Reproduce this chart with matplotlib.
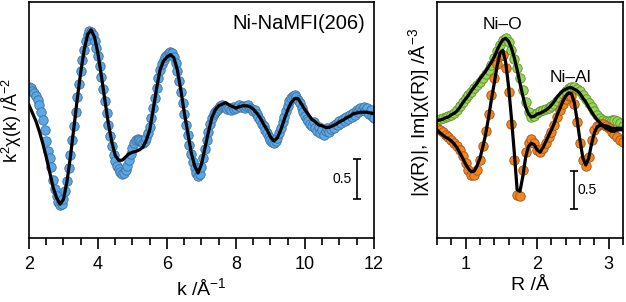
import numpy as np
import matplotlib
matplotlib.use("Agg")
import matplotlib.pyplot as plt
from matplotlib.ticker import MultipleLocator, NullLocator

plt.rcParams["font.family"] = ["Liberation Sans", "DejaVu Sans"]
plt.rcParams["mathtext.default"] = "regular"

# --- k-Raum: Messpunkte (Schritt 0.05) und Fit (Schritt 0.1) ---
chi_data = [
    0.38, 0.36, 0.33, 0.30, 0.26, 0.21, 0.15, 0.06, -0.04, -0.16,
    -0.30, -0.43, -0.51, -0.63, -0.79, -0.90, -0.99, -1.06, -1.10, -1.09,
    -1.03, -0.93, -0.80, -0.64, -0.48, -0.29, -0.11, 0.06, 0.25, 0.41,
    0.58, 0.71, 0.84, 0.95, 1.03, 1.08, 1.06, 1.03, 0.95, 0.86,
    0.76, 0.64, 0.50, 0.35, 0.20, 0.05, -0.10, -0.24, -0.36, -0.48,
    -0.55, -0.61, -0.65, -0.69, -0.71, -0.70, -0.66, -0.61, -0.54, -0.46,
    -0.39, -0.33, -0.29, -0.28, -0.29, -0.30, -0.33, -0.30, -0.26, -0.20,
    -0.13, -0.01, 0.11, 0.24, 0.36, 0.49, 0.59, 0.66, 0.71, 0.75,
    0.78, 0.80, 0.81, 0.80, 0.75, 0.68, 0.58, 0.45, 0.31, 0.18,
    0.04, -0.10, -0.23, -0.35, -0.46, -0.56, -0.64, -0.70, -0.74, -0.71,
    -0.63, -0.51, -0.40, -0.29, -0.19, -0.09, -0.01, 0.04, 0.06, 0.09,
    0.11, 0.14, 0.15, 0.14, 0.13, 0.10, 0.11, 0.09, 0.13, 0.10,
    0.11, 0.14, 0.15, 0.13, 0.14, 0.11, 0.14, 0.15, 0.11, 0.10,
    0.08, 0.09, 0.04, 0.00, -0.04, -0.09, -0.11, -0.16, -0.20, -0.25,
    -0.29, -0.31, -0.33, -0.30, -0.26, -0.20, -0.14, -0.06, 0.00, 0.08,
    0.14, 0.20, 0.24, 0.26, 0.28, 0.25, 0.21, 0.18, 0.11, 0.06,
    0.01, -0.03, -0.05, -0.09, -0.11, -0.06, -0.14, -0.18, -0.13, -0.20,
    -0.16, -0.23, -0.18, -0.14, -0.19, -0.15, -0.11, -0.14, -0.09, -0.10,
    -0.05, -0.08, -0.03, -0.05, 0.00, -0.03, 0.03, 0.00, 0.05, 0.03,
    0.09, 0.06, 0.11, 0.09, 0.13, 0.08, 0.11, 0.04, 0.09, 0.01,
    -0.01,
]
chi_fit = [
    0.15, 0.05, -0.05, -0.18, -0.33, -0.50, -0.69, -0.88, -1.01, -1.09,
    -1.03, -0.81, -0.50, -0.14, 0.23, 0.56, 0.84, 1.03, 1.09, 1.00,
    0.79, 0.51, 0.21, -0.08, -0.31, -0.48, -0.54, -0.54, -0.50, -0.46,
    -0.44, -0.43, -0.41, -0.38, -0.29, -0.16, 0.09, 0.36, 0.59, 0.70,
    0.75, 0.78, 0.74, 0.59, 0.34, 0.06, -0.19, -0.44, -0.61, -0.70,
    -0.59, -0.39, -0.19, -0.01, 0.09, 0.14, 0.16, 0.18, 0.15, 0.13,
    0.11, 0.13, 0.14, 0.14, 0.13, 0.10, 0.05, -0.01, -0.09, -0.16,
    -0.25, -0.30, -0.26, -0.16, -0.03, 0.09, 0.18, 0.23, 0.23, 0.16,
    0.09, 0.03, -0.03, -0.06, -0.10, -0.11, -0.13, -0.13, -0.11, -0.09,
    -0.06, -0.04, -0.01, 0.01, 0.04, 0.05, 0.06, 0.06, 0.06, 0.05,
    0.04,
]
k_data = np.linspace(2.0, 12.0, len(chi_data))
k_fit = np.linspace(2.0, 12.0, len(chi_fit))

# --- R-Raum: Betrag und Imaginaerteil (Schritt 0.04) ---
mag_data = [
    0.08, 0.09, 0.11, 0.12, 0.13, 0.15, 0.17, 0.21, 0.27, 0.32,
    0.37, 0.41, 0.45, 0.51, 0.55, 0.59, 0.64, 0.69, 0.75, 0.81,
    0.91, 1.00, 1.08, 1.15, 1.17, 1.12, 1.01, 0.89, 0.77, 0.64,
    0.48, 0.32, 0.19, 0.12, 0.13, 0.17, 0.20, 0.21, 0.23, 0.24,
    0.27, 0.29, 0.33, 0.37, 0.43, 0.47, 0.51, 0.52, 0.52, 0.49,
    0.47, 0.41, 0.36, 0.31, 0.25, 0.20, 0.15, 0.11, 0.08, 0.07,
    0.07, 0.08, 0.08, 0.07, 0.04, 0.00,
]
mag_fit = [
    0.07, 0.08, 0.09, 0.11, 0.12, 0.15, 0.17, 0.20, 0.25, 0.31,
    0.36, 0.41, 0.47, 0.52, 0.57, 0.63, 0.68, 0.73, 0.79, 0.85,
    0.92, 1.01, 1.09, 1.15, 1.17, 1.13, 1.04, 0.91, 0.75, 0.57,
    0.40, 0.25, 0.16, 0.12, 0.13, 0.16, 0.17, 0.19, 0.21, 0.24,
    0.28, 0.33, 0.39, 0.43, 0.47, 0.49, 0.51, 0.51, 0.49, 0.47,
    0.43, 0.37, 0.32, 0.25, 0.19, 0.13, 0.08, 0.04, 0.01, 0.00,
    -0.01, -0.03, -0.03, -0.03, -0.03, -0.03,
]
im_data = [
    -0.03, -0.05, -0.08, -0.12, -0.15, -0.19, -0.23, -0.27, -0.32, -0.40,
    -0.49, -0.59, -0.65, -0.65, -0.59, -0.45, -0.27, -0.07, 0.16, 0.41,
    0.64, 0.83, 0.93, 0.95, 0.77, 0.45, 0.03, -0.45, -0.92, -0.93,
    -0.59, -0.35, -0.23, -0.17, -0.23, -0.32, -0.35, -0.29, -0.23, -0.15,
    -0.08, 0.01, 0.12, 0.21, 0.29, 0.36, 0.40, 0.40, 0.29, 0.05,
    -0.23, -0.45, -0.53, -0.41, -0.19, -0.05, 0.00, 0.03, 0.03, 0.00,
    -0.03, -0.08, -0.11, -0.15, -0.19, -0.21,
]
im_fit = [
    -0.05, -0.09, -0.12, -0.15, -0.17, -0.20, -0.24, -0.29, -0.36, -0.43,
    -0.51, -0.57, -0.61, -0.60, -0.53, -0.43, -0.28, -0.11, 0.11, 0.35,
    0.57, 0.80, 0.97, 1.01, 0.85, 0.53, 0.11, -0.35, -0.85, -0.87,
    -0.67, -0.41, -0.27, -0.23, -0.25, -0.32, -0.35, -0.29, -0.21, -0.13,
    -0.05, 0.04, 0.15, 0.24, 0.33, 0.40, 0.44, 0.43, 0.31, 0.07,
    -0.20, -0.43, -0.52, -0.43, -0.24, -0.09, -0.01, 0.01, 0.00, -0.03,
    -0.05, -0.07, -0.07, -0.05, -0.05, -0.05,
]
r_grid = np.linspace(0.60, 3.20, len(mag_data))

# Farben der Messpunkte
blue, blue_edge = "#5aa8e8", "#3f6f9c"
green, green_edge = "#98d455", "#5d8f2c"
orange, orange_edge = "#f28522", "#a3520f"


def style_axis(ax, major, minor):
    for s in ax.spines.values():
        s.set_linewidth(1.2)
    ax.xaxis.set_major_locator(MultipleLocator(major))
    ax.xaxis.set_minor_locator(MultipleLocator(minor))
    ax.yaxis.set_major_locator(NullLocator())
    ax.yaxis.set_minor_locator(NullLocator())
    ax.tick_params(axis="x", which="major", direction="out", length=8, width=1.2,
                   labelsize=13, pad=5)
    ax.tick_params(axis="x", which="minor", direction="out", length=5, width=1.2)


def scale_bar(ax, x, y0, y1, label, tx, ha):
    ax.errorbar([x], [(y0 + y1) / 2], yerr=[(y1 - y0) / 2], color="black",
                lw=1.2, capsize=3, capthick=1.2, fmt="none")
    ax.text(tx, (y0 + y1) / 2, label, ha=ha, va="center", fontsize=10)


fig = plt.figure(figsize=(6.26, 3.02), dpi=100)

# linkes Panel: k^2 chi(k)
ax1 = fig.add_axes([0.0463, 0.2119, 0.5511, 0.7815])
ax1.plot(k_data, chi_data, "o", ms=6.8, mfc=blue, mec=blue_edge, mew=0.6, zorder=2)
ax1.plot(k_fit, chi_fit, color="black", lw=2.3, zorder=3)
ax1.set_xlim(2, 12)
ax1.set_ylim(-1.5125, 1.4375)
style_axis(ax1, 2, 0.5)
ax1.set_xlabel("k /Å$^{-1}$", fontsize=14, labelpad=3)
ax1.set_ylabel("k$^2$χ(k) /Å$^{-2}$", fontsize=13)
ax1.yaxis.set_label_coords(-0.013, 0.5)
ax1.text(0.974, 0.907, "Ni-NaMFI(206)", transform=ax1.transAxes, ha="right",
         va="center", fontsize=14.5)
scale_bar(ax1, 11.51, -1.03, -0.53, "0.5", 11.36, "right")

# rechtes Panel: |chi(R)| und Im[chi(R)]
ax2 = fig.add_axes([0.6981, 0.2119, 0.2971, 0.7815])
ax2.plot(r_grid, mag_data, "o", ms=6.8, mfc=green, mec=green_edge, mew=0.6, zorder=2)
ax2.plot(r_grid, im_data, "o", ms=6.8, mfc=orange, mec=orange_edge, mew=0.6, zorder=2)
ax2.plot(r_grid, mag_fit, color="black", lw=2.3, zorder=3)
ax2.plot(r_grid, im_fit, color="black", lw=2.3, zorder=3)
ax2.set_xlim(0.6, 3.2)
ax2.set_ylim(-1.493, 1.653)
style_axis(ax2, 1, 0.2)
ax2.set_xlabel("R /Å", fontsize=14, labelpad=3)
ax2.set_ylabel("|χ(R)|, Im[χ(R)] /Å$^{-3}$", fontsize=14)
ax2.yaxis.set_label_coords(-0.025, 0.53)
ax2.text(1.52, 1.35, "Ni–O", ha="center", va="center", fontsize=12.5)
ax2.text(2.47, 0.64, "Ni–Al", ha="center", va="center", fontsize=12.5)
scale_bar(ax2, 2.52, -1.10, -0.60, "0.5", 2.57, "left")

fig.savefig("out.png", dpi=100)
